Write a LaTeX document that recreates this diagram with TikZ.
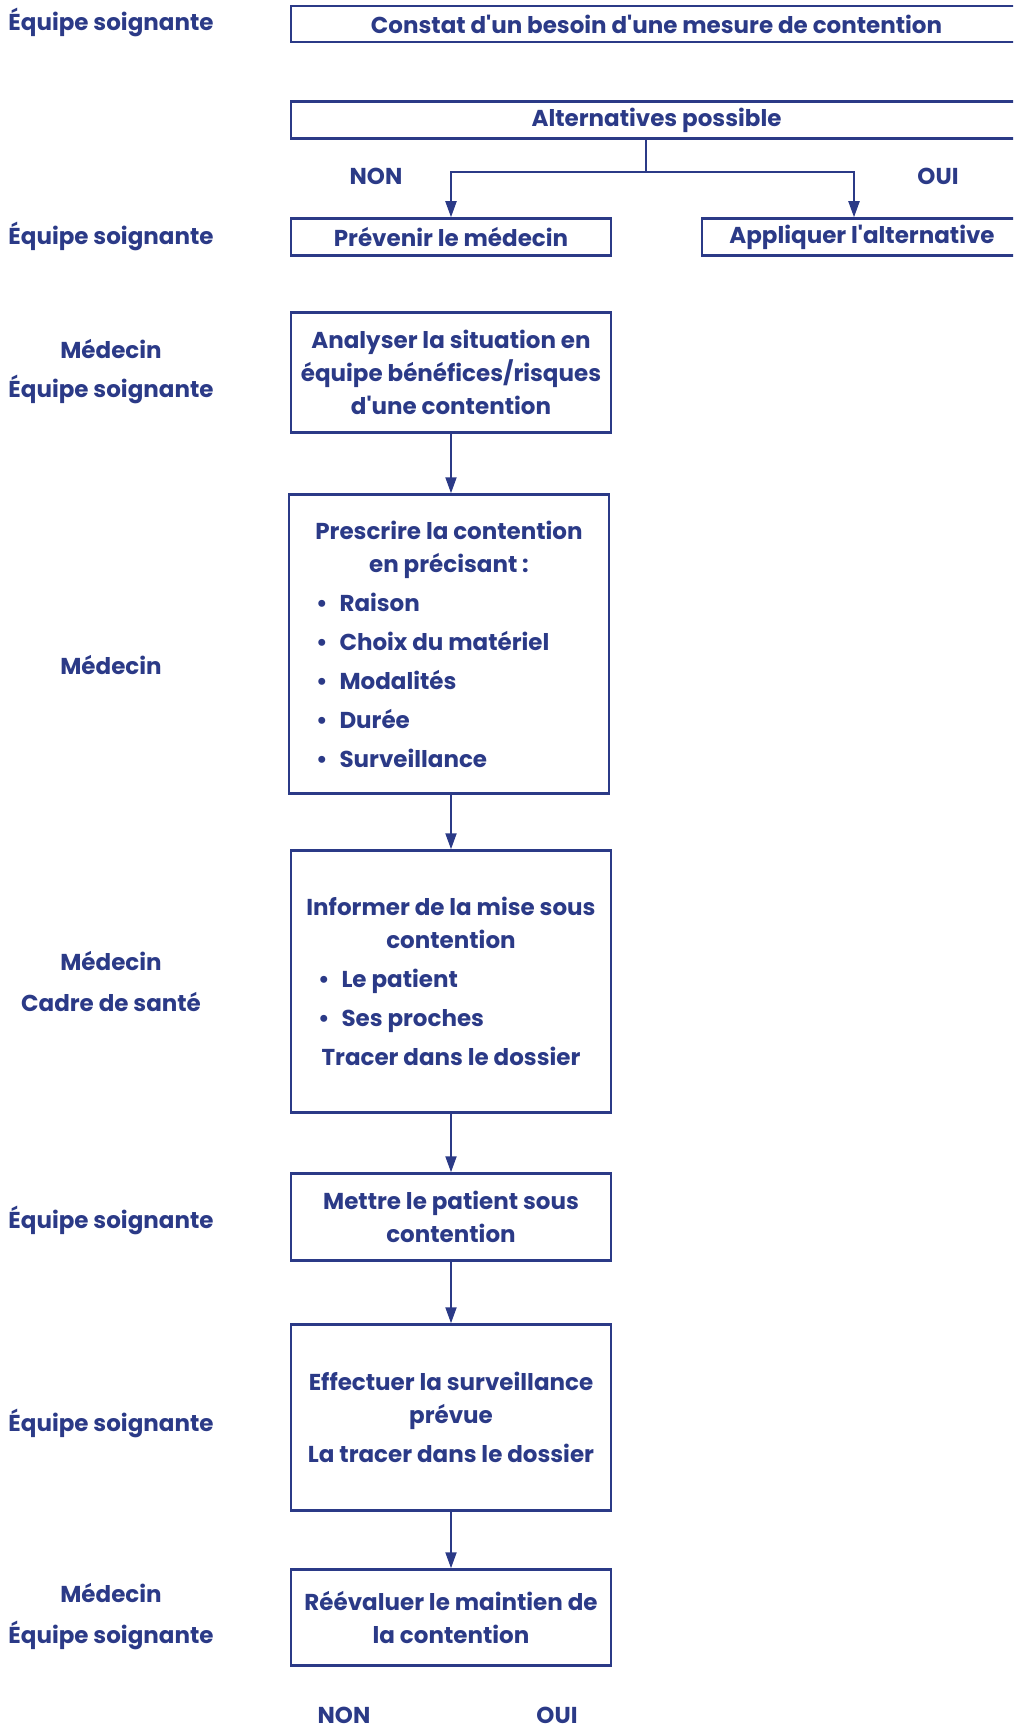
\documentclass[tikz,border=0pt]{standalone}
\usepackage{fontspec}
\setmainfont{Poppins}[Ligatures=TeXOff]
\usetikzlibrary{arrows.meta}
\definecolor{navy}{HTML}{2B3A87}
\newcommand\flowfont{\fontsize{23}{33}\selectfont\bfseries}
\newcommand\itm[1]{\makebox[266pt][l]{\textbullet\hspace{12pt}#1}}
\tikzset{
  box/.style={draw=navy, line width=2.5pt, minimum width=320pt, text=navy,
              align=center, inner sep=0pt, font=\flowfont},
  role/.style={text=navy, font=\flowfont, align=center, inner sep=0pt},
  link/.style={draw=navy, line width=2pt},
  flow/.style={link, -{Triangle[length=16pt,width=11pt]}},
}
\begin{document}
\begin{tikzpicture}[x=1pt, y=-1pt]
\useasboundingbox (0,0) rectangle (1013,1728);
\clip (0,0) rectangle (1013,1728);

% steps of the procedure
\node[box, minimum width=731pt, minimum height=36pt] (constat) at (656.5,24)
  {Constat d'un besoin d'une mesure de contention};
\node[box, minimum width=731pt, minimum height=37pt] (alt) at (656.5,120)
  {Alternatives possible};
\node[box, minimum height=37pt] (prev) at (451,237) {Prévenir le médecin};
\node[box, minimum height=37pt] (appl) at (862,237) {Appliquer l'alternative};
\node[box, minimum height=120pt] (analyse) at (451,372.5)
  {Analyser la situation en\\équipe bénéfices/risques\\d'une contention};
\node[box, minimum height=299pt] (prescrire) at (449,644)
  {Prescrire la contention\\en précisant :\\[6pt]
   \itm{Raison}\\[6pt]\itm{Choix du matériel}\\[6pt]\itm{Modalités}\\[6pt]
   \itm{Durée}\\[6pt]\itm{Surveillance}};
\node[box, minimum height=262pt] (informer) at (451,981.5)
  {Informer de la mise sous\\contention\\[6pt]
   \itm{Le patient}\\[6pt]\itm{Ses proches}\\[6pt]Tracer dans le dossier};
\node[box, minimum height=87pt] (mettre) at (451,1217)
  {Mettre le patient sous\\contention};
\node[box, minimum height=186pt] (surv) at (451,1417.5)
  {Effectuer la surveillance\\prévue\\[6pt]La tracer dans le dossier};
\node[box, minimum height=96pt] (reeval) at (451,1617.5)
  {Réévaluer le maintien de\\la contention};

% who is in charge
\node[role] (r1) at (111,22) {Équipe soignante};
\node[role] (r2) at (111,236) {Équipe soignante};
\node[role] (r3) at (111,371.5) {Médecin\\[6pt]Équipe soignante};
\node[role] (r4) at (111,665) {Médecin};
\node[role] (r5) at (111,981.5) {Médecin\\[8pt]Cadre de santé};
\node[role] (r6) at (111,1220) {Équipe soignante};
\node[role] (r7) at (111,1423) {Équipe soignante};
\node[role] (r8) at (111,1616.5) {Médecin\\[8pt]Équipe soignante};

% answers
\node[role] (non1) at (376,176) {NON};
\node[role] (oui1) at (938,176) {OUI};
\node[role] (non2) at (344,1715) {NON};
\node[role] (oui2) at (557,1715) {OUI};

% connectors
\coordinate (split) at (646,172);
\coordinate (ouix) at (854,0);
\draw[link] (alt.south -| split) -- (split);
\draw[flow] (split) -| (prev.north);
\draw[flow] (split) -| (ouix |- appl.north);
\draw[flow] (analyse.south) -- (analyse.south |- prescrire.north);
\draw[flow] (analyse.south |- prescrire.south) -- (informer.north);
\draw[flow] (informer.south) -- (mettre.north);
\draw[flow] (mettre.south) -- (surv.north);
\draw[flow] (surv.south) -- (reeval.north);
\end{tikzpicture}
\end{document}
